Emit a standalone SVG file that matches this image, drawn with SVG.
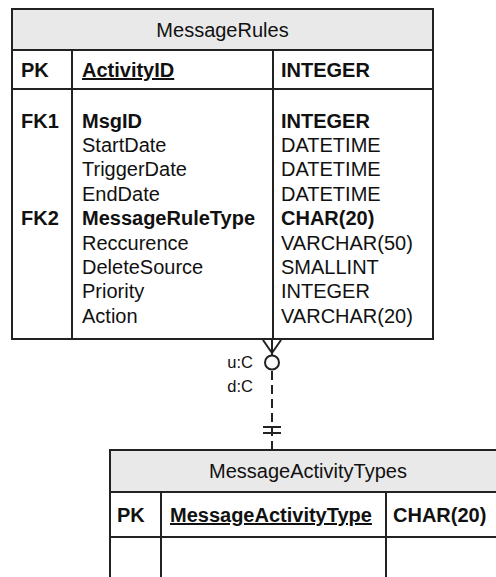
<svg xmlns="http://www.w3.org/2000/svg" width="496" height="577" viewBox="0 0 496 577">
<style>
.t{font-family:"Liberation Sans",Arial,sans-serif;font-size:20px;fill:#111}
.b{font-weight:bold}
.u{text-decoration:underline}
.box{fill:#fff;stroke:#222;stroke-width:2}
.hdr{fill:#e9e9e9;stroke:#222;stroke-width:2}
.ln{stroke:#222;stroke-width:2;fill:none}
.lbl{font-family:"Liberation Sans",Arial,sans-serif;font-size:16.5px;fill:#111}
</style>
<rect width="496" height="577" fill="#fff"/>
<g id="MessageRules">
<rect class="box" x="12" y="9" width="421" height="330"/>
<rect class="hdr" x="12" y="9" width="421" height="41"/>
<line class="ln" x1="12" y1="89" x2="433" y2="89"/>
<line class="ln" x1="72" y1="50" x2="72" y2="339"/>
<line class="ln" x1="273" y1="50" x2="273" y2="339"/>
<text class="t" x="222.5" y="37" text-anchor="middle">MessageRules</text>
<text class="t b" x="21" y="77">PK</text>
<text class="t b u" x="82" y="77">ActivityID</text>
<text class="t b" x="281" y="77">INTEGER</text>
<text class="t b" x="21" y="127.6">FK1</text>
<text class="t b" x="82" y="127.6">MsgID</text>
<text class="t b" x="281" y="127.6">INTEGER</text>
<text class="t" x="82" y="152">StartDate</text>
<text class="t" x="281" y="152">DATETIME</text>
<text class="t" x="82" y="176.4">TriggerDate</text>
<text class="t" x="281" y="176.4">DATETIME</text>
<text class="t" x="82" y="200.8">EndDate</text>
<text class="t" x="281" y="200.8">DATETIME</text>
<text class="t b" x="21" y="225.2">FK2</text>
<text class="t b" x="82" y="225.2">MessageRuleType</text>
<text class="t b" x="281" y="225.2">CHAR(20)</text>
<text class="t" x="82" y="249.6">Reccurence</text>
<text class="t" x="281" y="249.6">VARCHAR(50)</text>
<text class="t" x="82" y="274">DeleteSource</text>
<text class="t" x="281" y="274">SMALLINT</text>
<text class="t" x="82" y="298.4">Priority</text>
<text class="t" x="281" y="298.4">INTEGER</text>
<text class="t" x="82" y="322.8">Action</text>
<text class="t" x="281" y="322.8">VARCHAR(20)</text>
</g>
<g id="MessageActivityTypes">
<rect class="box" x="110" y="450" width="396" height="150"/>
<rect class="hdr" x="110" y="450" width="396" height="42"/>
<line class="ln" x1="110" y1="537" x2="506" y2="537"/>
<line class="ln" x1="161" y1="492" x2="161" y2="600"/>
<line class="ln" x1="386" y1="492" x2="386" y2="600"/>
<text class="t" x="308" y="477.5" text-anchor="middle">MessageActivityTypes</text>
<text class="t b" x="117" y="522">PK</text>
<text class="t b u" x="170" y="522">MessageActivityType</text>
<text class="t b" x="393" y="522">CHAR(20)</text>
</g>
<g id="connectors">
<line class="ln" x1="263" y1="340" x2="272" y2="353"/>
<line class="ln" x1="281" y1="340" x2="272" y2="353"/>
<line class="ln" x1="272" y1="340" x2="272" y2="355"/>
<circle class="ln" cx="272" cy="362.5" r="7"/>
<line class="ln" x1="272" y1="371" x2="272" y2="450" stroke-dasharray="9,5"/>
<line class="ln" x1="263" y1="427" x2="281" y2="427"/>
<line class="ln" x1="263" y1="433" x2="281" y2="433"/>
<text class="lbl" x="253" y="368" text-anchor="end">u:C</text>
<text class="lbl" x="253" y="392" text-anchor="end">d:C</text>
</g>
</svg>
